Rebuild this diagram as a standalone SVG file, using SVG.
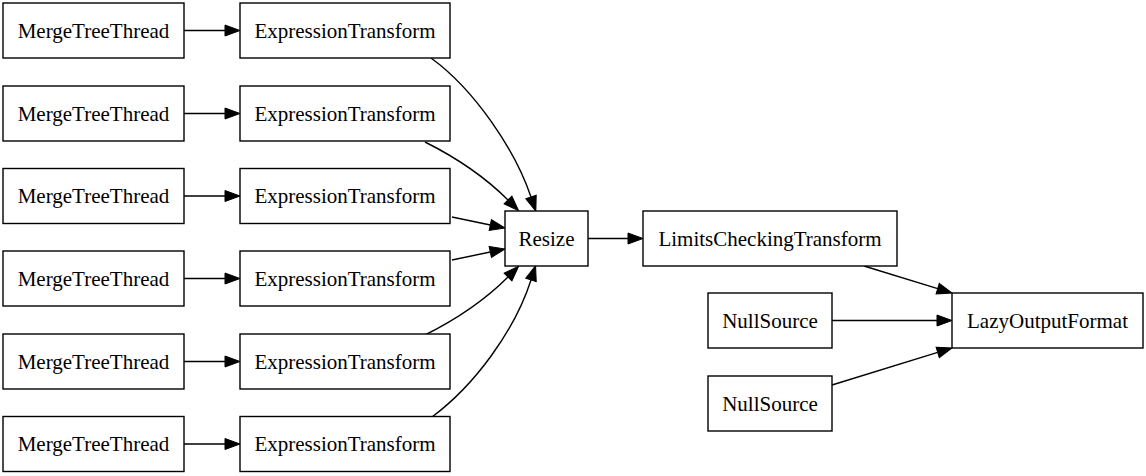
<svg xmlns="http://www.w3.org/2000/svg" width="1146" height="476" viewBox="0 0 1146 476">
<style>
.n rect{fill:#fff;stroke:#000;stroke-width:1.4}
.n text{font-family:"Liberation Serif","Times New Roman",serif;font-size:21px;text-anchor:middle;fill:#000}
.e path{fill:none;stroke:#000;stroke-width:1.4;marker-end:url(#ah)}
</style>
<defs>
<marker id="ah" markerUnits="userSpaceOnUse" markerWidth="16" markerHeight="12" refX="0" refY="5.5" orient="auto" viewBox="0 0 16 11" overflow="visible">
<path d="M0,0 L15,5.5 L0,11 Z" fill="#000" stroke="#000" stroke-width="1"/>
</marker>
</defs>
<rect width="1146" height="476" fill="#fff"/>
<g id="edges" class="e">
<path d="M184,30.5 H225"/>
<path d="M184,113.5 H225"/>
<path d="M184,196 H225"/>
<path d="M184,278.5 H225"/>
<path d="M184,361.5 H225"/>
<path d="M184,444 H225"/>
<path d="M431,58 C475,90 515,150 531,197"/>
<path d="M425,142 C455,157 485,177 508,200"/>
<path d="M452,217 L490.3,225"/>
<path d="M452,260 L490.3,252"/>
<path d="M425,335 C455,320 485,300 508,277"/>
<path d="M432,417 C475,385 515,330 531,280"/>
<path d="M588,238.5 H628"/>
<path d="M864,266 L937.7,288.6"/>
<path d="M832,320.5 H937"/>
<path d="M832,385 L937.7,352.4"/>
</g>
<g id="mtt1" class="n"><rect x="3" y="3" width="181" height="55"/><text x="93.5" y="37.5">MergeTreeThread</text></g>
<g id="mtt2" class="n"><rect x="3" y="86" width="181" height="55"/><text x="93.5" y="120.5">MergeTreeThread</text></g>
<g id="mtt3" class="n"><rect x="3" y="168.5" width="181" height="55"/><text x="93.5" y="203">MergeTreeThread</text></g>
<g id="mtt4" class="n"><rect x="3" y="251" width="181" height="55"/><text x="93.5" y="285.5">MergeTreeThread</text></g>
<g id="mtt5" class="n"><rect x="3" y="334" width="181" height="55"/><text x="93.5" y="368.5">MergeTreeThread</text></g>
<g id="mtt6" class="n"><rect x="3" y="416.5" width="181" height="55"/><text x="93.5" y="451">MergeTreeThread</text></g>
<g id="et1" class="n"><rect x="240" y="3" width="210" height="55"/><text x="345" y="37.5">ExpressionTransform</text></g>
<g id="et2" class="n"><rect x="240" y="86" width="210" height="55"/><text x="345" y="120.5">ExpressionTransform</text></g>
<g id="et3" class="n"><rect x="240" y="168.5" width="210" height="55"/><text x="345" y="203">ExpressionTransform</text></g>
<g id="et4" class="n"><rect x="240" y="251" width="210" height="55"/><text x="345" y="285.5">ExpressionTransform</text></g>
<g id="et5" class="n"><rect x="240" y="334" width="210" height="55"/><text x="345" y="368.5">ExpressionTransform</text></g>
<g id="et6" class="n"><rect x="240" y="416.5" width="210" height="55"/><text x="345" y="451">ExpressionTransform</text></g>
<g id="resize" class="n"><rect x="505" y="211" width="83" height="55"/><text x="546.5" y="245.5">Resize</text></g>
<g id="limits" class="n"><rect x="643" y="211" width="254" height="55"/><text x="770" y="245.5">LimitsCheckingTransform</text></g>
<g id="null1" class="n"><rect x="708" y="293" width="124" height="55"/><text x="770" y="327.5">NullSource</text></g>
<g id="null2" class="n"><rect x="708" y="376" width="124" height="55"/><text x="770" y="410.5">NullSource</text></g>
<g id="lazy" class="n"><rect x="952" y="293" width="191" height="55"/><text x="1047.5" y="327.5">LazyOutputFormat</text></g>
</svg>
